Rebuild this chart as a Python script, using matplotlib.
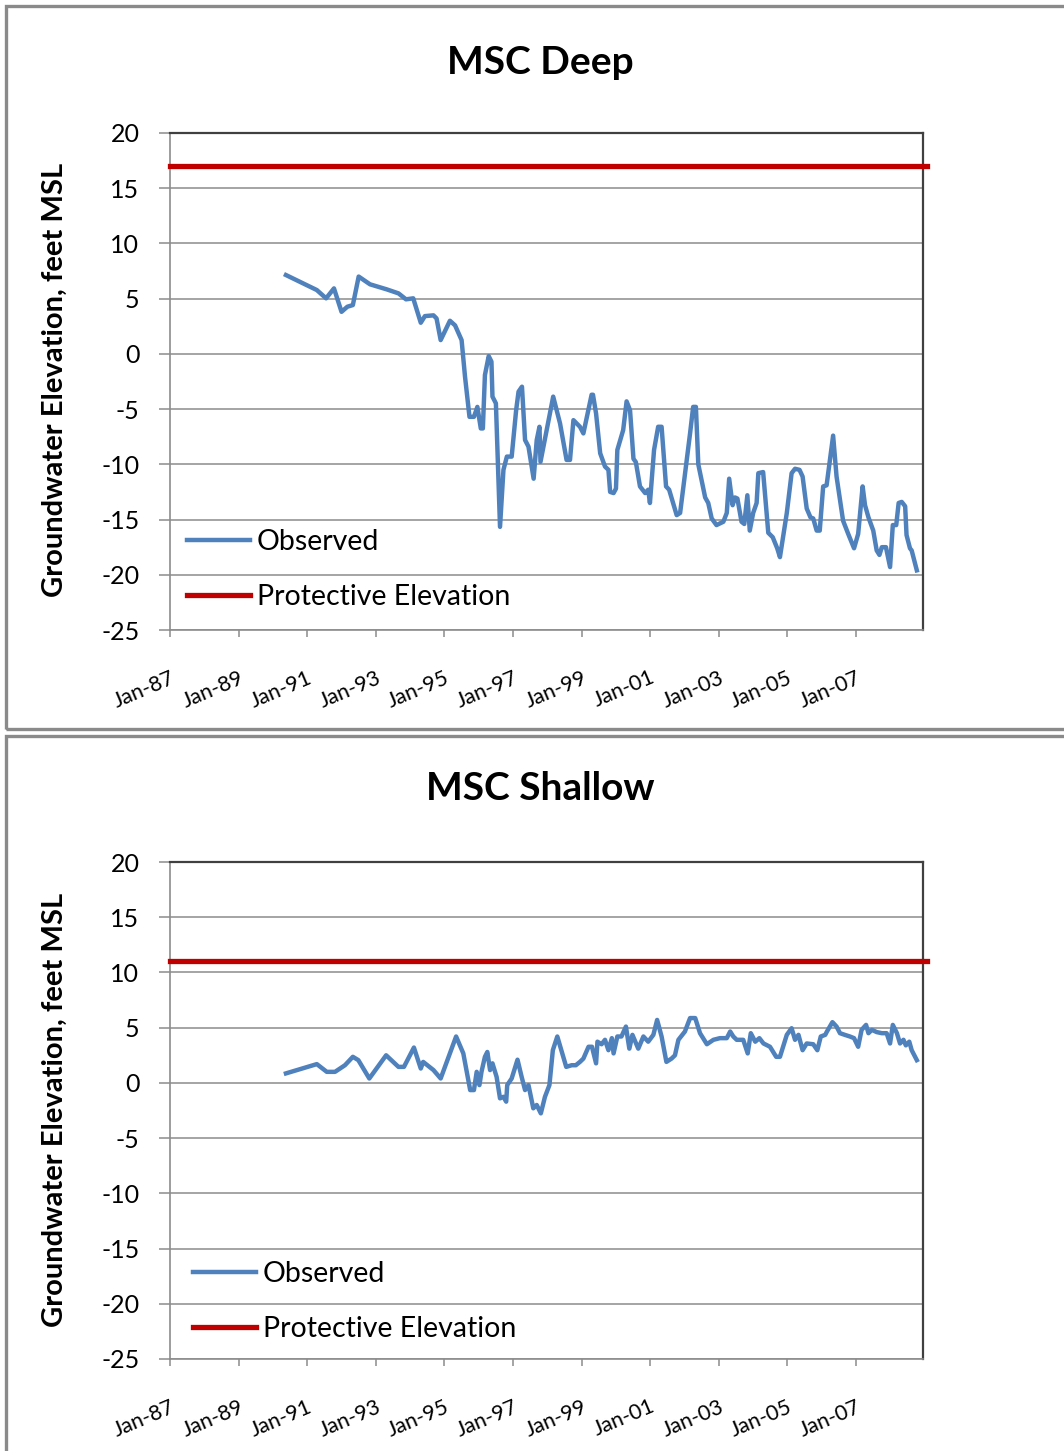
import matplotlib
matplotlib.use("Agg")
import matplotlib.pyplot as plt
from matplotlib.patches import Rectangle

plt.rcParams['font.family'] = ['Lato', 'DejaVu Sans']
plt.rcParams['axes.unicode_minus'] = False

# ---------------- data ----------------
deep_dates = [1990.38, 1991.28, 1991.55, 1991.78, 1992.00, 1992.17, 1992.33, 1992.50, 1992.83, 1993.32,
              1993.66, 1993.88, 1994.09, 1994.31, 1994.43, 1994.68, 1994.77, 1994.89, 1995.16, 1995.31,
              1995.50, 1995.60, 1995.73, 1995.86, 1995.96, 1996.06, 1996.12, 1996.18, 1996.29, 1996.37,
              1996.40, 1996.50, 1996.62, 1996.72, 1996.82, 1996.96, 1997.09, 1997.16, 1997.26, 1997.35,
              1997.45, 1997.60, 1997.69, 1997.77, 1997.80, 1998.17, 1998.37, 1998.56, 1998.66, 1998.76,
              1998.95, 1999.05, 1999.29, 1999.33, 1999.42, 1999.54, 1999.68, 1999.78, 1999.83, 1999.93,
              2000.00, 2000.04, 2000.21, 2000.31, 2000.41, 2000.51, 2000.58, 2000.70, 2000.85, 2000.94,
              2000.99, 2001.11, 2001.23, 2001.33, 2001.46, 2001.55, 2001.77, 2001.87, 2002.16, 2002.25,
              2002.33, 2002.40, 2002.60, 2002.69, 2002.79, 2002.93, 2003.13, 2003.23, 2003.30, 2003.40,
              2003.47, 2003.54, 2003.66, 2003.74, 2003.83, 2003.90, 2004.00, 2004.10, 2004.15, 2004.29,
              2004.44, 2004.57, 2004.70, 2004.78, 2004.98, 2005.12, 2005.22, 2005.35, 2005.44, 2005.56,
              2005.67, 2005.75, 2005.85, 2005.94, 2006.04, 2006.14, 2006.33, 2006.43, 2006.62, 2006.77,
              2006.94, 2007.06, 2007.19, 2007.26, 2007.36, 2007.50, 2007.60, 2007.68, 2007.75, 2007.87,
              2007.99, 2008.07, 2008.17, 2008.24, 2008.33, 2008.43, 2008.47, 2008.57, 2008.62, 2008.77]
deep_values = [7.14, 5.78, 5.03, 5.93, 3.81, 4.27, 4.42, 7.00, 6.30, 5.84,
               5.48, 4.94, 5.03, 2.82, 3.42, 3.49, 3.21, 1.25, 3.00, 2.58,
               1.25, -2.07, -5.70, -5.70, -4.80, -6.75, -6.75, -1.92, -0.20, -0.70,
               -3.87, -4.48, -15.66, -10.50, -9.30, -9.30, -5.10, -3.42, -2.97, -7.80,
               -8.40, -11.30, -7.80, -6.60, -9.77, -3.87, -6.30, -9.60, -9.60, -6.00,
               -6.60, -7.20, -3.70, -3.70, -5.40, -9.00, -10.20, -10.50, -12.50, -12.60,
               -12.20, -8.70, -6.90, -4.30, -5.10, -9.50, -9.80, -12.00, -12.60, -12.30,
               -13.50, -8.70, -6.60, -6.60, -12.00, -12.30, -14.60, -14.40, -7.20, -4.80,
               -4.80, -10.00, -13.00, -13.50, -14.90, -15.50, -15.20, -14.40, -11.30, -13.70,
               -13.00, -13.10, -15.20, -15.40, -12.80, -16.00, -14.40, -13.50, -10.80, -10.70,
               -16.20, -16.60, -17.60, -18.40, -14.40, -10.80, -10.40, -10.50, -11.10, -14.00,
               -14.80, -14.90, -16.00, -16.00, -12.00, -11.90, -7.40, -11.10, -15.10, -16.30,
               -17.60, -16.30, -12.00, -13.70, -14.80, -16.00, -17.80, -18.20, -17.50, -17.50,
               -19.30, -15.50, -15.50, -13.50, -13.40, -13.80, -16.40, -17.60, -17.80, -19.60]
deep_protective = 17

shallow_dates = [1990.38, 1991.28, 1991.57, 1991.81, 1992.10, 1992.33, 1992.49, 1992.81, 1993.30, 1993.66,
                 1993.82, 1994.11, 1994.31, 1994.38, 1994.68, 1994.89, 1995.34, 1995.55, 1995.75, 1995.86,
                 1995.94, 1996.02, 1996.08, 1996.18, 1996.25, 1996.33, 1996.40, 1996.52, 1996.62, 1996.72,
                 1996.80, 1996.83, 1996.96, 1997.13, 1997.25, 1997.35, 1997.45, 1997.59, 1997.69, 1997.81,
                 1997.93, 1998.06, 1998.16, 1998.29, 1998.55, 1998.71, 1998.83, 1998.95, 1999.05, 1999.20,
                 1999.30, 1999.42, 1999.46, 1999.58, 1999.68, 1999.78, 1999.88, 1999.93, 2000.04, 2000.16,
                 2000.29, 2000.39, 2000.48, 2000.65, 2000.80, 2000.94, 2001.09, 2001.20, 2001.33, 2001.47,
                 2001.62, 2001.72, 2001.82, 2002.01, 2002.16, 2002.31, 2002.45, 2002.65, 2002.84, 2003.03,
                 2003.23, 2003.33, 2003.42, 2003.52, 2003.71, 2003.84, 2003.93, 2004.06, 2004.18, 2004.30,
                 2004.49, 2004.67, 2004.78, 2004.98, 2005.12, 2005.22, 2005.32, 2005.44, 2005.56, 2005.75,
                 2005.87, 2005.97, 2006.10, 2006.15, 2006.31, 2006.43, 2006.53, 2006.67, 2006.82, 2006.94,
                 2007.06, 2007.16, 2007.29, 2007.36, 2007.46, 2007.60, 2007.75, 2007.89, 2007.99, 2008.07,
                 2008.19, 2008.28, 2008.38, 2008.45, 2008.55, 2008.62, 2008.77]
shallow_values = [0.86, 1.70, 1.00, 1.00, 1.60, 2.36, 2.06, 0.40, 2.50, 1.45,
                  1.45, 3.20, 1.30, 1.90, 1.16, 0.40, 4.20, 2.67, -0.65, -0.65,
                  1.00, -0.20, 1.00, 2.36, 2.80, 1.16, 1.77, 0.55, -1.40, -1.26,
                  -1.70, -0.20, 0.40, 2.10, 0.55, -0.65, -0.20, -2.30, -2.00, -2.76,
                  -1.26, -0.20, 2.96, 4.20, 1.45, 1.60, 1.60, 1.90, 2.20, 3.27,
                  3.27, 1.77, 3.73, 3.50, 3.90, 2.96, 4.05, 2.67, 4.20, 4.20,
                  5.10, 3.10, 4.35, 3.10, 4.20, 3.73, 4.35, 5.70, 4.20, 1.90,
                  2.20, 2.50, 3.90, 4.65, 5.87, 5.87, 4.50, 3.50, 3.90, 4.05,
                  4.05, 4.65, 4.20, 3.90, 3.90, 2.67, 4.50, 3.73, 4.05, 3.57,
                  3.27, 2.36, 2.36, 4.35, 4.95, 3.90, 4.35, 2.96, 3.57, 3.50,
                  2.96, 4.20, 4.35, 4.65, 5.50, 5.10, 4.50, 4.35, 4.20, 4.05,
                  3.27, 4.80, 5.25, 4.50, 4.80, 4.60, 4.50, 4.50, 3.57, 5.25,
                  4.50, 3.57, 3.90, 3.40, 3.73, 2.96, 2.06]
shallow_protective = 11

tick_years = [1987, 1989, 1991, 1993, 1995, 1997, 1999, 2001, 2003, 2005, 2007]
tick_labels = ['Jan-87', 'Jan-89', 'Jan-91', 'Jan-93', 'Jan-95', 'Jan-97',
               'Jan-99', 'Jan-01', 'Jan-03', 'Jan-05', 'Jan-07']
y_ticks = [-25, -20, -15, -10, -5, 0, 5, 10, 15, 20]
titles = ['MSC Deep', 'MSC Shallow']
ylabel = 'Groundwater Elevation, feet MSL'
x_range = (1987.0, 2008.95)

BLUE = '#4F81BD'
RED = '#C00000'
GRID = '#8c8c8c'
DARK = '#404040'

W, H = 1064, 1451
fig = plt.figure(figsize=(W / 100, H / 100), dpi=100)

def fx(px):
    return px / W

def fy(py):
    return 1 - py / H

# panel borders
fig.patches.append(Rectangle((fx(6), fy(729)), 1.2, fy(6) - fy(729), transform=fig.transFigure,
                             fill=False, edgecolor='#8a8a8a', linewidth=2.4))
fig.patches.append(Rectangle((fx(6), fy(1460)), 1.2, fy(736) - fy(1460), transform=fig.transFigure,
                             fill=False, edgecolor='#8a8a8a', linewidth=2.4))

panels = [
    dict(dates=deep_dates, values=deep_values, prot=deep_protective, top=133, bot=630,
         title_y=62, leg=(187, 569.5), ylab_y=380),
    dict(dates=shallow_dates, values=shallow_values, prot=shallow_protective, top=862, bot=1359,
         title_y=789, leg=(193, 1301.5), ylab_y=1110),
]

for i, p in enumerate(panels):
    left, right = 170, 923
    ax = fig.add_axes([fx(left), fy(p['bot']), fx(right) - fx(left), fy(p['top']) - fy(p['bot'])])
    ax.set_xlim(*x_range)
    ax.set_ylim(-25, 20)
    ax.set_yticks(y_ticks)
    ax.set_xticks(tick_years)
    ax.set_xticklabels(tick_labels, rotation=23, ha='right', rotation_mode='anchor')
    ax.grid(axis='y', color=GRID, linewidth=1.1)
    ax.set_axisbelow(True)
    ax.tick_params(axis='y', direction='out', length=8, width=1.1, color=GRID, pad=14,
                   labelsize=18, labelcolor='black')
    ax.tick_params(axis='x', direction='out', length=5, width=1.1, color=GRID, pad=22,
                   labelsize=15.5, labelcolor='black')
    for s in ['left', 'bottom']:
        ax.spines[s].set_color(GRID)
        ax.spines[s].set_linewidth(1.2)
    for s in ['top', 'right']:
        ax.spines[s].set_color(DARK)
        ax.spines[s].set_linewidth(1.6)

    ax.plot(p['dates'], p['values'], color=BLUE, linewidth=3.2, solid_joinstyle='round',
            label='Observed', zorder=3)
    ax.plot([x_range[0], x_range[1] + 0.12], [p['prot'], p['prot']], color=RED, linewidth=3.8,
            clip_on=False, label='Protective Elevation', zorder=4)

    fig.text(fx(55), fy(p['ylab_y']), ylabel, rotation=90, ha='center', va='center',
             fontsize=21, fontweight='bold')

    lx = (p['leg'][0] - left) / (right - left)
    ly = (p['bot'] - p['leg'][1]) / (p['bot'] - p['top'])
    ax.legend(loc='center left', bbox_to_anchor=(lx, ly), frameon=False, fontsize=20.5,
              handlelength=2.2, handletextpad=0.25, labelspacing=1.0, borderpad=0,
              borderaxespad=0)

    fig.text(fx(540), fy(p['title_y']), titles[i], ha='center', va='center',
             fontsize=28, fontweight='bold')

fig.savefig('out.png', dpi=100)
